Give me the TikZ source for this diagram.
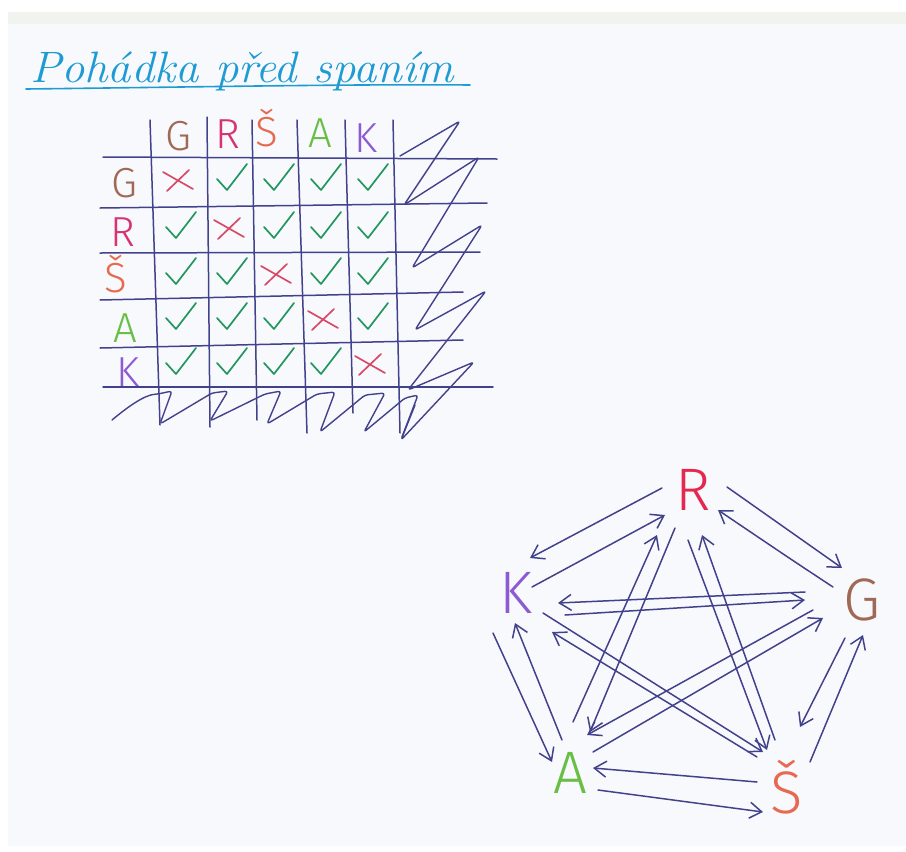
\documentclass[tikz,border=0pt]{standalone}
\usepackage{fontspec}
\newfontfamily\thinsans{Fira Sans Light}
\usetikzlibrary{arrows.meta}
\definecolor{ink}{RGB}{66,66,140}
\definecolor{paper}{RGB}{248,249,252}
\definecolor{band}{RGB}{241,243,238}
\definecolor{titleblue}{RGB}{30,155,210}
\definecolor{cG}{RGB}{160,105,85}
\definecolor{cR}{RGB}{215,50,115}
\definecolor{cRg}{RGB}{228,40,80}
\definecolor{cS}{RGB}{230,105,80}
\definecolor{cA}{RGB}{105,190,70}
\definecolor{cK}{RGB}{140,90,210}
\definecolor{chk}{RGB}{35,150,95}
\definecolor{crs}{RGB}{215,75,105}
\tikzset{
  gridline/.style={draw=ink, line width=1.5pt, line cap=round},
  scrib/.style={draw=ink, line width=1.4pt, line cap=round, line join=round, rounded corners=3pt},
  tl/.style={font=\thinsans\fontsize{42}{42}\selectfont, inner sep=0pt, anchor=base},
  gl/.style={font=\thinsans\fontsize{60}{60}\selectfont, inner sep=0pt, anchor=base},
  arr/.style={draw=ink, line width=1.5pt, line cap=round,
    -{Straight Barb[length=12pt,width=16pt,line width=1.5pt]}},
  check/.pic={\draw[chk, line width=1.7pt, line cap=round, line join=round] (-12,-2) -- (-2,9) -- (18,-17);},
  xmark/.pic={\draw[crs, line width=1.7pt, line cap=round] (-15,-9) -- (15,8) (-11,10) -- (11,-11);}
}
\begin{document}
\begin{tikzpicture}[x=1pt,y=-1pt]
\useasboundingbox (0,0) rectangle (906,852);
\fill[white] (0,0) rectangle (906,852);
\fill[paper] (8,12) rectangle (906,846);
\fill[band] (8,12) rectangle (906,24);

% title
\node[anchor=base west, inner sep=0pt, text=titleblue, xscale=1.06, font=\itshape\fontsize{44}{44}\selectfont] (title) at (30,82) {Pohádka před spaním};
\draw[titleblue, line width=1.6pt, line cap=round] (26,89) .. controls (200,87) and (350,84) .. (470,85);

% table grid
\draw[gridline] (103,157) -- (497,159);
\draw[gridline] (100,208) -- (487,203);
\draw[gridline] (100,253) -- (480,252);
\draw[gridline] (100,300) -- (463,292);
\draw[gridline] (100,348) -- (463,340);
\draw[gridline] (103,387) -- (493,387);
\draw[gridline] (150,120) -- (160,425);
\draw[gridline] (207,117) -- (210,427);
\draw[gridline] (252,120) -- (257,420);
\draw[gridline] (297,120) -- (307,433);
\draw[gridline] (345,120) -- (353,413);
\draw[gridline] (393,120) -- (400,433);

% header letters
\node[tl, text=cG] (hG) at (178,150) {G};
\node[tl, text=cR] (hR) at (228,148) {R};
\node[tl, text=cS] (hS) at (267,146) {Š};
\node[tl, text=cA] (hA) at (320,147) {A};
\node[tl, text=cK] (hK) at (366,152) {K};
% row letters
\node[tl, text=cG] (rG) at (124,197) {G};
\node[tl, text=cR] (rR) at (123,246) {R};
\node[tl, text=cS] (rS) at (116,292) {Š};
\node[tl, text=cA] (rA) at (125,342) {A};
\node[tl, text=cK] (rK) at (128,386) {K};

% marks
\foreach \cx [count=\i] in {178,229,276,323,370}{
  \foreach \cy [count=\j] in {181,229,275,320,365}{
    \ifnum\i=\j \pic at (\cx,\cy) {xmark}; \else \pic at (\cx,\cy) {check}; \fi
  }
}

% scribbles
\draw[scrib] (400,156) -- (460,121) -- (404,205) -- (479,157) -- (412,268) -- (482,225)
  -- (415,330) -- (486,291) -- (408,390) -- (474,362) -- (401,440) -- (415,405);
\draw[scrib] (112,420) .. controls (130,405) and (145,395) .. (158,394) -- (172,391) -- (160,424)
  -- (212,393) -- (228,391) -- (210,421)
  -- (265,394) -- (281,391) -- (267,424)
  -- (317,394) -- (335,392) -- (320,432)
  -- (365,395) -- (385,393) -- (364,432)
  -- (405,398) -- (418,395) -- (402,437);

% graph nodes
\node[gl, text=cRg] (R) at (693,510) {R};
\node[gl, text=cG] (G) at (862,620) {G};
\node[gl, text=cS] (S) at (787,813) {Š};
\node[gl, text=cA] (A) at (570,793) {A};
\node[gl, text=cK] (K) at (516,613) {K};

% arrows
\draw[arr] ([shift={(-31,-22)}]R.base) -- ([shift={(14,-55)}]K.base);
\draw[arr] ([shift={(16,-26)}]K.base) -- ([shift={(-28,5)}]R.base);
\draw[arr] ([shift={(34,-23)}]R.base) -- ([shift={(-20,-52)}]G.base);
\draw[arr] ([shift={(-29,-33)}]G.base) .. controls ([shift={(-70,-60)}]G.base) .. ([shift={(25,0)}]R.base);
\draw[arr] ([shift={(-57,-28)}]G.base) -- ([shift={(42,-10)}]K.base);
\draw[arr] ([shift={(49,2)}]K.base) -- ([shift={(-57,-20)}]G.base);
\draw[arr] ([shift={(-23,20)}]K.base) -- ([shift={(-18,-31)}]A.base);
\draw[arr] ([shift={(-8,-53)}]A.base) -- ([shift={(-1,10)}]K.base);
\draw[arr] ([shift={(28,-3)}]A.base) -- ([shift={(-24,-1)}]S.base);
\draw[arr] ([shift={(-30,-31)}]S.base) -- ([shift={(23,-25)}]A.base);
\draw[arr] ([shift={(-17,18)}]G.base) -- ([shift={(13,-86)}]S.base);
\draw[arr] ([shift={(23,-51)}]S.base) -- ([shift={(1,15)}]G.base);
\draw[arr] ([shift={(-18,18)}]R.base) -- ([shift={(20,-61)}]A.base);
\draw[arr] ([shift={(3,-71)}]A.base) -- ([shift={(-36,25)}]R.base);
\draw[arr] ([shift={(-5,30)}]R.base) -- ([shift={(-20,-63)}]S.base);
\draw[arr] ([shift={(-12,-73)}]S.base) -- ([shift={(9,25)}]R.base);
\draw[arr] ([shift={(27,0)}]K.base) -- ([shift={(-24,-61)}]S.base);
\draw[arr] ([shift={(-30,-56)}]S.base) -- ([shift={(36,19)}]K.base);
\draw[arr] ([shift={(-49,-10)}]G.base) -- ([shift={(17,-58)}]A.base);
\draw[arr] ([shift={(23,-41)}]A.base) -- ([shift={(-39,-2)}]G.base);
\end{tikzpicture}
\end{document}
